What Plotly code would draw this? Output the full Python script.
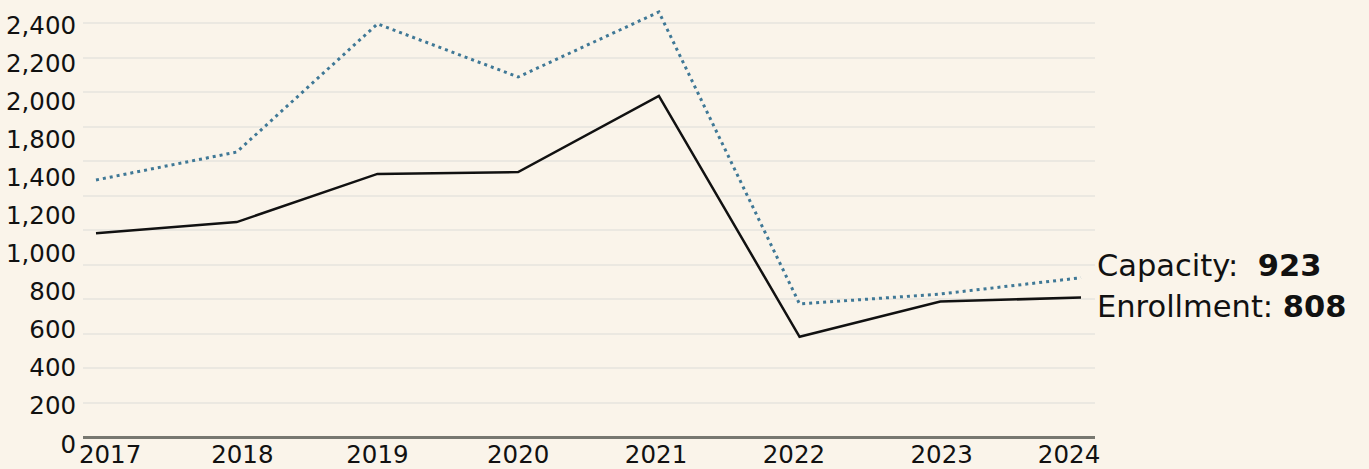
import plotly.graph_objects as go

years = [2017, 2018, 2019, 2020, 2021, 2022, 2023, 2024]
capacity = [1490, 1652, 2395, 2087, 2464, 771, 829, 923]
enrollment = [1181, 1246, 1525, 1536, 1977, 581, 786, 808]

y_grid_vals = list(range(0, 2401, 200))
y_tick_labels = ["0", "200", "400", "600", "800", "1,000", "1,200", "1,400",
                 "1,800", "2,000", "2,200", "2,400"]
x_tick_labels = [str(y) for y in years]

BG = "#faf4ea"
GRID = "#ebe8e1"
CAP_COLOR = "#3f7896"
ENR_COLOR = "#111111"
FONT = "DejaVu Sans"
TICK_SIZE = 24.5
LABEL_SIZE = 30.5

# label nudges for the year labels (in years)
x_label_nudge = [0.1, 0.04, 0.0, 0.0, -0.02, -0.04, 0.01, -0.085]

fig = go.Figure()
fig.add_trace(go.Scatter(x=years, y=capacity, mode="lines", name="Capacity",
                         line=dict(color=CAP_COLOR, width=3, dash="3px,4px")))
fig.add_trace(go.Scatter(x=years, y=enrollment, mode="lines", name="Enrollment",
                         line=dict(color=ENR_COLOR, width=2.5)))
# invisible trace to activate the label axes
fig.add_trace(go.Scatter(x=[years[0]], y=[0], xaxis="x2", yaxis="y2",
                         mode="markers", marker=dict(opacity=0), hoverinfo="skip",
                         showlegend=False))

px_per_unit = 414 / 2400.0
plot_h = 437
y_top = plot_h / px_per_unit
px_per_year = (1081 - 96) / 7.0
x0 = years[0] - 13 / px_per_year
x1 = years[-1] + 14 / px_per_year

n_lab = len(y_tick_labels) - 1

fig.update_layout(
    width=1369, height=469, autosize=False,
    margin=dict(l=83, r=274, t=0, b=32, autoexpand=False),
    paper_bgcolor=BG, plot_bgcolor=BG,
    showlegend=False,
    font=dict(family=FONT, color="#111111", size=TICK_SIZE),
    xaxis=dict(range=[x0, x1], showticklabels=False, showgrid=False,
               zeroline=False, showline=False, ticks="", automargin=False),
    yaxis=dict(range=[0, y_top], tickvals=y_grid_vals, showticklabels=False,
               showgrid=True, gridcolor=GRID, gridwidth=2, zeroline=True,
               zerolinecolor="#777770", zerolinewidth=3, ticks="", automargin=False),
    xaxis2=dict(overlaying="x", range=[x0, x1], side="bottom",
                tickvals=[y + n for y, n in zip(years, x_label_nudge)],
                ticktext=x_tick_labels, showgrid=False, zeroline=False,
                showline=False, ticks="", automargin=False,
                ticklabelstandoff=0, ticklabeloverflow="allow",
                tickfont=dict(size=TICK_SIZE, family=FONT)),
    yaxis2=dict(overlaying="y", range=[0, n_lab * 437 / 419.0], side="left",
                tickvals=list(range(len(y_tick_labels))), ticktext=y_tick_labels,
                showgrid=False, zeroline=False, showline=False,
                ticks="outside", ticklen=0, tickcolor="rgba(0,0,0,0)",
                ticklabelstandoff=1,
                ticklabelshift=7, ticklabeloverflow="allow",
                automargin=False,
                tickfont=dict(size=TICK_SIZE, family=FONT)),
)

fig.add_annotation(x=years[-1], y=capacity[-1], xref="x", yref="y",
                   text=f"Capacity:&nbsp; <b>{capacity[-1]}</b>", showarrow=False,
                   xanchor="left", yanchor="middle", xshift=14, yshift=12,
                   font=dict(size=LABEL_SIZE, family=FONT, color="#111111"))
fig.add_annotation(x=years[-1], y=enrollment[-1], xref="x", yref="y",
                   text=f"Enrollment: <b>{enrollment[-1]}</b>", showarrow=False,
                   xanchor="left", yanchor="middle", xshift=14, yshift=-9,
                   font=dict(size=LABEL_SIZE, family=FONT, color="#111111"))

fig.write_html("out.html", config={"displayModeBar": False},
               post_script="document.body.style.margin='0px';")
